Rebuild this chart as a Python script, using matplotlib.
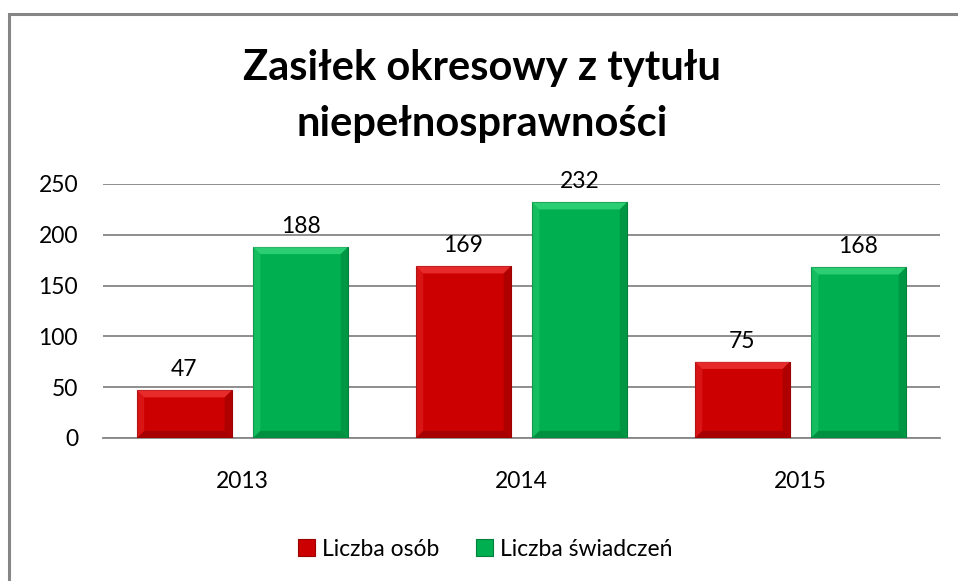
import matplotlib.pyplot as plt
from matplotlib.patches import Polygon
import numpy as np

years = ["2013", "2014", "2015"]
osob = [47, 169, 75]
swiadczen = [188, 232, 168]

plt.rcParams['font.family'] = ['Lato', 'DejaVu Sans']

fig = plt.figure(figsize=(9.58, 5.81), dpi=100)
# outer frame of chart area
fig.patches.append(plt.Rectangle((9 / 958, -0.1), 1.2, 1 - 14 / 581 + 0.1,
                                 transform=fig.transFigure, fill=False,
                                 edgecolor='#868686', linewidth=2.2))

ax = fig.add_axes([103 / 958, 1 - 438 / 581, 837 / 958, 254 / 581])
x = np.arange(len(years))
w = 0.34
off = 0.208
b1 = ax.bar(x - off, osob, w, color='#CC0000', edgecolor='#9A0000', linewidth=0.8,
            label='Liczba osób', zorder=3)
b2 = ax.bar(x + off, swiadczen, w, color='#00B050', edgecolor='#00803A', linewidth=0.8,
            label='Liczba świadczeń', zorder=3)

# bevel look on the bars
bx, by = 0.026, 7.0
def bevel(r, light, dark):
    x0, y0 = r.get_x(), r.get_y()
    x1, y1 = x0 + r.get_width(), y0 + r.get_height()
    h = min(by, r.get_height() / 2)
    sides = [
        ([(x0, y1), (x1, y1), (x1 - bx, y1 - h), (x0 + bx, y1 - h)], light, 0.55),
        ([(x0, y0), (x0, y1), (x0 + bx, y1 - h), (x0 + bx, y0 + h)], light, 0.25),
        ([(x1, y0), (x1, y1), (x1 - bx, y1 - h), (x1 - bx, y0 + h)], dark, 0.35),
        ([(x0, y0), (x1, y0), (x1 - bx, y0 + h), (x0 + bx, y0 + h)], dark, 0.45),
    ]
    for pts, c, a in sides:
        ax.add_patch(Polygon(pts, closed=True, facecolor=c, alpha=a,
                             edgecolor='none', zorder=4))

for r in b1:
    bevel(r, '#FF5050', '#7A0000')
for r in b2:
    bevel(r, '#50E890', '#006A2E')

for bars, vals in ((b1, osob), (b2, swiadczen)):
    for r, v in zip(bars, vals):
        ax.text(r.get_x() + r.get_width() / 2, v + 10, str(v), ha='center',
                va='bottom', fontsize=16.5)

ax.set_xlim(-0.5, 2.5)
ax.set_ylim(0, 250)
ax.set_yticks(range(0, 251, 50))
ax.set_xticks(x)
ax.set_xticklabels(years)
ax.tick_params(axis='both', length=0, labelsize=16.5)
ax.tick_params(axis='y', pad=18)
ax.tick_params(axis='x', pad=24)
ax.grid(axis='y', color='#868686', linewidth=1.3, zorder=0)
for s in ('left', 'right', 'top'):
    ax.spines[s].set_visible(False)
ax.spines['bottom'].set_color('#868686')
ax.spines['bottom'].set_linewidth(1.3)

fig.text(482 / 958, 1 - 96 / 581, "Zasiłek okresowy z tytułu\nniepełnosprawności",
         ha='center', va='center', fontsize=30, fontweight='bold', linespacing=1.6)

fig.legend(handles=[b1, b2], loc='center', bbox_to_anchor=(485 / 958, 1 - 549 / 581),
           ncol=2, frameon=False, fontsize=16.5, handlelength=0.75, handleheight=0.75,
           handletextpad=0.3, columnspacing=1.6)

fig.savefig("out.png", dpi=100)
